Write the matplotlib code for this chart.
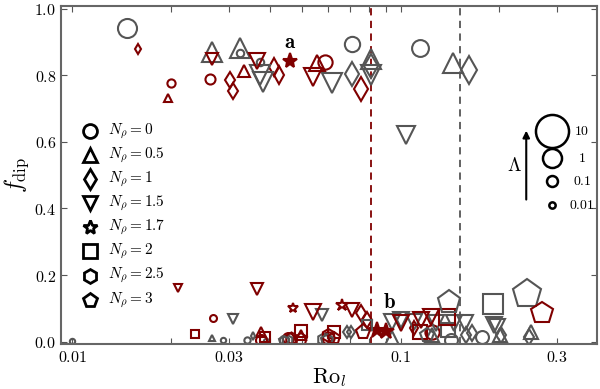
import matplotlib
matplotlib.use("Agg")
import matplotlib.pyplot as plt
from matplotlib.ticker import FixedLocator, FixedFormatter, NullFormatter

plt.rcParams["mathtext.fontset"] = "cm"
plt.rcParams["font.family"] = "serif"
plt.rcParams["font.serif"] = ["DejaVu Serif"]

RED = "#800000"
GRAY = "#555555"

# each point: (Ro_l, f_dip, Lambda)
red_n0 = [(0.0200, 0.776, 0.03), (0.0262, 0.790, 0.07), (0.0590, 0.841, 0.3),
          (0.0268, 0.070, 0.015), (0.0376, 0.006, 0.1), (0.0455, 0.010, 0.1),
          (0.0600, 0.012, 0.15), (0.1250, 0.030, 0.3)]
gray_n0 = [(0.0147, 0.942, 1.0), (0.0325, 0.869, 0.02), (0.0373, 0.841, 0.02),
           (0.0713, 0.894, 0.4), (0.1145, 0.882, 0.6), (0.0100, 0.002, 0.005),
           (0.0287, 0.004, 0.005), (0.0341, 0.004, 0.01), (0.0390, 0.002, 0.005),
           (0.0441, 0.004, 0.05), (0.1420, 0.006, 0.2), (0.1775, 0.013, 0.2),
           (0.0598, 0.004, 0.1)]
red_n05 = [(0.0195, 0.733, 0.03), (0.0334, 0.814, 0.2), (0.0557, 0.837, 0.4),
           (0.0375, 0.028, 0.1), (0.0498, 0.020, 0.1)]
gray_n05 = [(0.0267, 0.872, 1.0), (0.0325, 0.882, 1.0), (0.0814, 0.850, 1.0),
            (0.1448, 0.837, 1.0), (0.0267, 0.010, 0.005), (0.2015, 0.020, 0.3),
            (0.2490, 0.030, 0.3), (0.1250, 0.020, 0.3), (0.0945, 0.010, 0.3)]
red_n1 = [(0.01585, 0.879, 0.012), (0.0302, 0.786, 0.1), (0.0309, 0.753, 0.1),
          (0.0411, 0.826, 0.15), (0.0426, 0.801, 0.15), (0.0759, 0.758, 0.7),
          (0.0756, 0.085, 0.1), (0.0791, 0.065, 0.1), (0.1100, 0.040, 0.08)]
gray_n1 = [(0.0713, 0.805, 0.7), (0.0814, 0.830, 0.7), (0.1616, 0.817, 1.2),
           (0.0356, 0.017, 0.005), (0.0688, 0.029, 0.04), (0.0704, 0.030, 0.04),
           (0.1580, 0.020, 0.12), (0.2020, 0.020, 0.12), (0.2463, 0.015, 0.12),
           (0.1650, 0.025, 0.12)]
red_n15 = [(0.0267, 0.849, 0.15), (0.0366, 0.844, 0.4), (0.0541, 0.796, 0.8),
           (0.02095, 0.160, 0.03), (0.0366, 0.157, 0.13), (0.0542, 0.088, 0.4),
           (0.0713, 0.095, 0.3), (0.1151, 0.065, 0.5), (0.1235, 0.075, 0.5),
           (0.1000, 0.055, 0.4)]
gray_n15 = [(0.0373, 0.800, 1.0), (0.0380, 0.780, 1.0), (0.0619, 0.776, 1.0),
            (0.0814, 0.800, 1.0), (0.1036, 0.621, 0.8), (0.0309, 0.067, 0.07),
            (0.0577, 0.080, 0.15), (0.0944, 0.060, 0.5), (0.1000, 0.065, 0.5),
            (0.1100, 0.058, 0.5), (0.1280, 0.055, 0.5), (0.1454, 0.055, 0.5),
            (0.1570, 0.055, 0.5), (0.1970, 0.045, 0.5), (0.1925, 0.050, 0.4)]
red_n17 = [(0.0469, 0.100, 0.1), (0.0664, 0.110, 0.15)]
red_n17_filled = [(0.0460, 0.844, 0.4), (0.0850, 0.035, 0.5), (0.0900, 0.032, 0.5)]
red_n2 = [(0.0236, 0.0226, 0.03), (0.0385, 0.015, 0.05), (0.0498, 0.032, 0.2),
          (0.0627, 0.030, 0.2), (0.1390, 0.075, 0.4), (0.1150, 0.030, 0.3)]
gray_n2 = [(0.0791, 0.050, 0.1), (0.1911, 0.113, 1.2), (0.1400, 0.035, 0.3)]
red_n25 = [(0.0462, 0.010, 0.15), (0.0600, 0.020, 0.2)]
gray_n25 = [(0.0451, 0.004, 0.1), (0.0580, 0.008, 0.15)]
red_n3 = [(0.0498, 0.007, 0.15), (0.0627, 0.010, 0.2), (0.0770, 0.030, 0.4),
          (0.2705, 0.085, 2.2)]
gray_n3 = [(0.0598, 0.004, 0.15), (0.0440, 0.003, 0.1), (0.1405, 0.120, 2.5),
           (0.2434, 0.142, 6.0), (0.1200, 0.020, 0.3)]

ro_crit_red = 0.081
ro_crit_gray = 0.152

leg_markers = ["o", "^", "d", "v", "*", "s", "h", "p"]
leg_labels = ["0", "0.5", "1", "1.5", "1.7", "2", "2.5", "3"]
lam_legend = [10, 1, 0.1, 0.01]
lam_labels = ["10", "1", "0.1", "0.01"]

x_major = [0.01, 0.03, 0.1, 0.3]
y_major = [0.0, 0.2, 0.4, 0.6, 0.8, 1.0]


def msize(lam):
    return 13.7 * lam ** 0.24


series = [
    (gray_n0, "o", GRAY, False), (red_n0, "o", RED, False),
    (gray_n05, "^", GRAY, False), (red_n05, "^", RED, False),
    (gray_n1, "d", GRAY, False), (red_n1, "d", RED, False),
    (gray_n15, "v", GRAY, False), (red_n15, "v", RED, False),
    (red_n17, "*", RED, False), (red_n17_filled, "*", RED, True),
    (gray_n2, "s", GRAY, False), (red_n2, "s", RED, False),
    (gray_n25, "h", GRAY, False), (red_n25, "h", RED, False),
    (gray_n3, "p", GRAY, False), (red_n3, "p", RED, False),
]

fig = plt.figure(figsize=(6.0, 3.89), dpi=100)
ax = fig.add_axes([0.1017, 0.1144, 0.8933, 0.8702])

for pts, mk, col, filled in series:
    for x, y, lam in pts:
        ax.plot(x, y, ls="none", marker=mk, ms=msize(lam), mec=col,
                mfc=col if filled else "none", mew=1.5)

ax.axvline(ro_crit_red, color=RED, ls=(0, (4, 3)), lw=1.3, zorder=0)
ax.axvline(ro_crit_gray, color=GRAY, ls=(0, (4, 3)), lw=1.3, zorder=0)

ax.text(0.0462, 0.898, r"$\mathbf{a}$", fontsize=15, ha="center", va="center")
ax.text(0.0926, 0.116, r"$\mathbf{b}$", fontsize=15, ha="center", va="center")

ax.set_xscale("log")
ax.set_xlim(0.00923, 0.397)
ax.set_ylim(-0.009, 1.009)
ax.xaxis.set_major_locator(FixedLocator(x_major))
ax.xaxis.set_major_formatter(FixedFormatter([f"${v:g}$" for v in x_major]))
ax.xaxis.set_minor_formatter(NullFormatter())
ax.yaxis.set_major_locator(FixedLocator(y_major))
ax.yaxis.set_major_formatter(FixedFormatter([f"${v:.1f}$" for v in y_major]))
ax.tick_params(which="both", direction="in", top=True, right=True,
               length=4, width=0.8, color="#555555", labelsize=11.5)
for sp in ax.spines.values():
    sp.set_color("#666666")
    sp.set_linewidth(1.5)

ax.set_xlabel(r"$\mathrm{Ro}_l$", fontsize=16, labelpad=0)
ax.set_ylabel(r"$f_{\mathrm{dip}}$", fontsize=17, labelpad=2)

# marker-shape legend (N_rho)
for i, (mk, lab) in enumerate(zip(leg_markers, leg_labels)):
    yy = (344.5 - (131 + 24.1 * i)) / 338.5
    ax.plot(0.0545, yy, marker=mk, ms=10, mec="black", mfc="none", mew=2,
            transform=ax.transAxes, ls="none")
    ax.text(0.0874, yy, rf"$N_\rho = {lab}$", fontsize=11, va="center",
            ha="left", transform=ax.transAxes)

# marker-size legend (Lambda)
lam_y = [0.630, 0.550, 0.484, 0.411]
for lam, lab, yy in zip(lam_legend, lam_labels, lam_y):
    ax.plot(0.916, yy, marker="o", ms=msize(lam), mec="black", mfc="none",
            mew=1.8, transform=ax.transAxes, ls="none")
    ax.text(0.972, yy, f"${lab}$", fontsize=10, va="center", ha="center",
            transform=ax.transAxes)
ax.annotate("", xy=(0.868, 0.640), xytext=(0.868, 0.420),
            xycoords="axes fraction",
            arrowprops=dict(arrowstyle="-|>", color="black", lw=1.5,
                            mutation_scale=10))
ax.text(0.846, 0.527, r"$\Lambda$", fontsize=14, ha="center", va="center",
        transform=ax.transAxes)

fig.savefig("out.png", dpi=100)
